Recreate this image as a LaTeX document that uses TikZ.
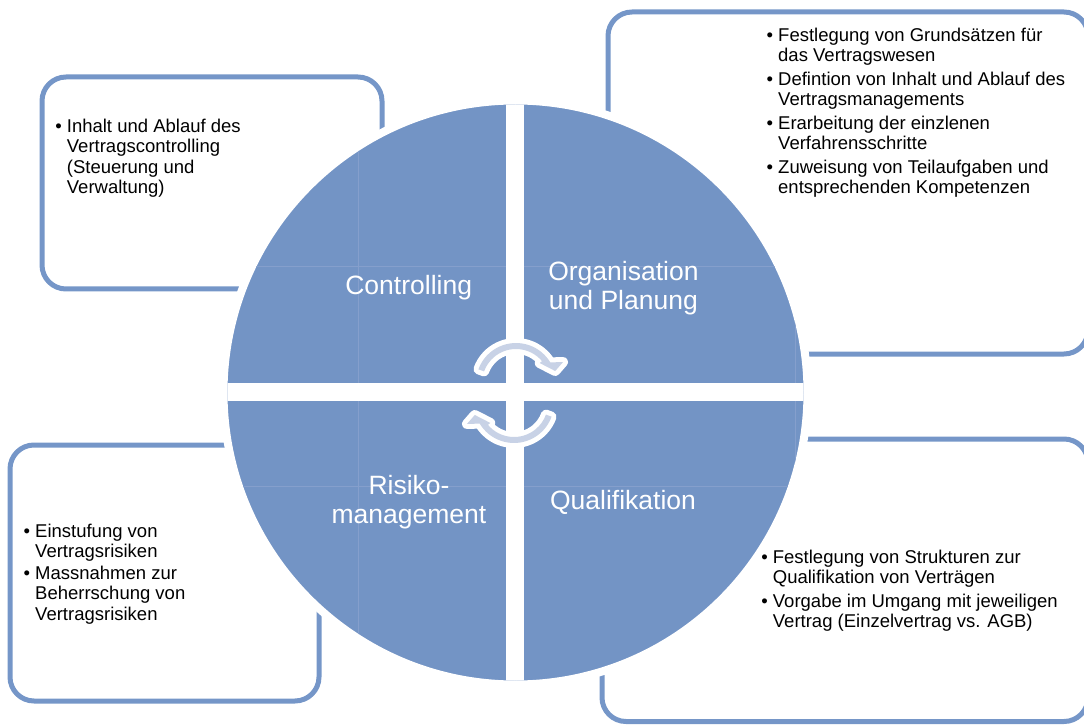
\documentclass[tikz,border=0pt]{standalone}
\usepackage{fontspec}
\setmainfont{Liberation Sans}
\definecolor{quadblue}{HTML}{7394C5}
\definecolor{boxblue}{HTML}{7596C8}
\definecolor{arrowfill}{HTML}{C8D2E6}
\definecolor{gridblue}{HTML}{859FCC}
\begin{document}
\begin{tikzpicture}[x=1pt, y=1pt, line join=round]
	\tikzset{infobox/.style={draw=boxblue, line width=5pt, rounded corners=24pt},
		quadlabel/.style={text=white, font=\fontsize{26.5}{29}\selectfont, align=center, inner sep=0pt},
		infotext/.style={font=\fontsize{18.5}{20.5}\selectfont, anchor=north west, inner sep=0pt},
		cyclearrow/.style={fill=arrowfill, preaction={draw=white, line width=10pt, line join=round}}}
	\useasboundingbox (0,0) rectangle (1084,724);
	\draw[infobox] (42,435) rectangle (382,647);
	\draw[infobox] (608,370) rectangle (1088,712);
	\draw[infobox] (10,23) rectangle (319,279);
	\draw[infobox] (602,2.5) rectangle (1088,285);
	\filldraw[fill=quadblue, draw=white, line width=8pt] (515.5,331.5) circle (292);
	\begin{scope}
		\clip (515.5,331.5) circle (288);
		\draw[gridblue, line width=0.7pt] (358,0) -- (358,724) (795,0) -- (795,724) (0,458) -- (1084,458) (0,238) -- (1084,238);
		\fill[white] (506,0) rectangle (524,724);
		\fill[white] (0,323) rectangle (1084,341);
	\end{scope}
	\foreach \r in {0,180}
		\path[cyclearrow, rotate around={\r:(515,331)}, shift={(516,341)}] (160:40) arc[start angle=160, end angle=31, radius=40] -- (24:51.5) -- (17:41) -- (40:31) -- (40:34) arc[start angle=40, end angle=160, radius=34] -- cycle;
	\node[quadlabel, anchor=base] (ctrl) at (408.7,429) {Controlling};
	\node[quadlabel] (org) at (623.4,435.5) {Organisation\\und Planung};
	\node[quadlabel] (risk) at (409,221.4) {Risiko-\\management};
	\node[quadlabel, anchor=base] (qual) at (623,214.5) {Qualifikation};
	\node[infotext] (ctrltext) at (55.2,606.3) {\begin{tabular}{@{}p{11.5pt}@{}l@{}}
		\textbullet & Inhalt und Ablauf des\\ & Vertragscontrolling\\ & (Steuerung und\\ & Verwaltung)
	\end{tabular}};
	\node[infotext] (orgtext) at (766.5,697.3) {\begin{tabular}{@{}p{11.5pt}@{}l@{}}
		\textbullet & Festlegung von Grundsätzen für\\ & das Vertragswesen\\[3pt]
		\textbullet & Defintion von Inhalt und Ablauf des\\ & Vertragsmanagements\\[3pt]
		\textbullet & Erarbeitung der einzlenen\\ & Verfahrensschritte\\[3pt]
		\textbullet & Zuweisung von Teilaufgaben und\\ & entsprechenden Kompetenzen
	\end{tabular}};
	\node[infotext] (risktext) at (23.5,201.3) {\begin{tabular}{@{}p{11.5pt}@{}l@{}}
		\textbullet & Einstufung von\\ & Vertragsrisiken\\[1pt]
		\textbullet & Massnahmen zur\\ & Beherrschung von\\ & Vertragsrisiken
	\end{tabular}};
	\node[infotext] (qualtext) at (761.2,175.3) {\begin{tabular}{@{}p{11.5pt}@{}l@{}}
		\textbullet & Festlegung von Strukturen zur\\ & Qualifikation von Verträgen\\[3pt]
		\textbullet & Vorgabe im Umgang mit jeweiligen\\ & Vertrag (Einzelvertrag vs. AGB)
	\end{tabular}};
\end{tikzpicture}
\end{document}
